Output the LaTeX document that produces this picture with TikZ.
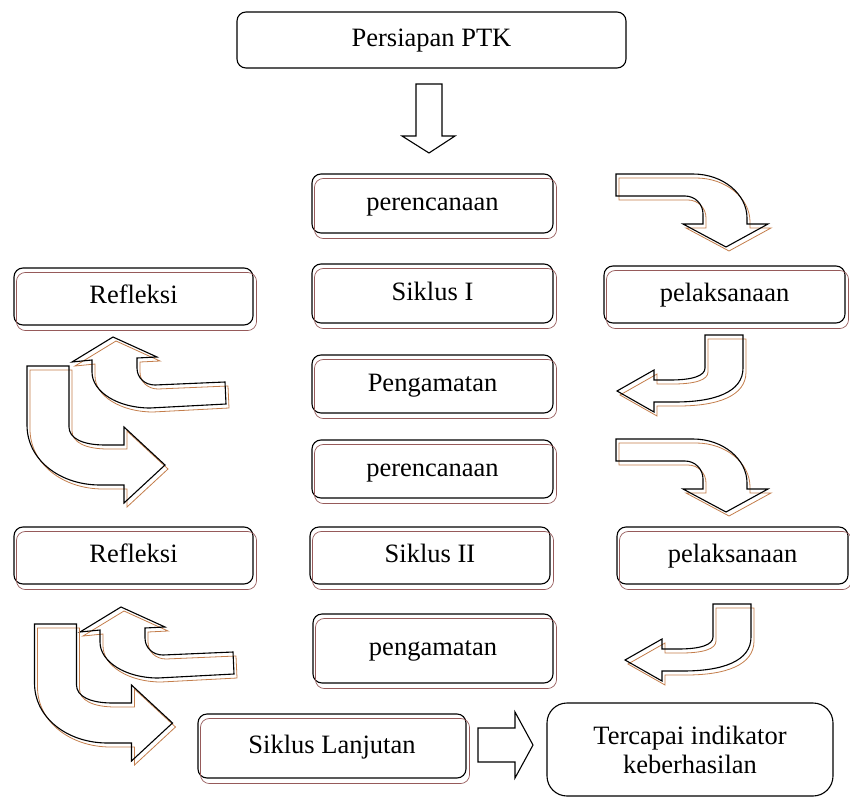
\documentclass[tikz,border=0pt]{standalone}
\usepackage{fontspec}
\setmainfont{Liberation Serif}
\definecolor{shbox}{RGB}{150,90,90}
\definecolor{sharrow}{RGB}{195,125,75}
\newcommand\shadowedbox[6]{%
  \node[box, text height=18pt, text depth=4pt, minimum width=#4pt, minimum height=#5pt] (#1) at (#2,#3) {#6};
  \draw[boxshadow] ([shift={(3,5)}]#1.north west) rectangle ([shift={(3,5)}]#1.south east);
}
\def\pathA{(616,174) -- (693,174) .. controls (723,174) and (747,194) .. (747,218) -- (747,224) -- (768,224) -- (726,247) -- (683,224) -- (703,224) -- (703,214) .. controls (703,204) and (695,196) .. (685,196) -- (616,196) -- cycle}
\def\pathB{(705,335) -- (743,335) -- (743,368) .. controls (743,392) and (715,402) .. (675,402) -- (654,402) -- (654,412) -- (617,391) -- (654,370) -- (654,380) -- (670,380) .. controls (692,380) and (705,376) .. (705,368) -- cycle}
\def\pathC{(226,404) -- (225,382) -- (155,385) .. controls (145,385) and (137,378) .. (137,368) -- (137,358) -- (157,357) -- (113,337) -- (72,362) -- (92,360) -- (92,372) .. controls (92,392) and (118,408) .. (150,408) -- cycle}
\def\pathD{(27,366) -- (69,366) -- (69,427) .. controls (69,438) and (82,445) .. (105,445) -- (124,445) -- (124,427) -- (165,465) -- (124,503) -- (124,485) -- (100,485) .. controls (60,485) and (27,460) .. (27,425) -- cycle}
\tikzset{
  pics/bendA/.style={code={\draw[arrowshadow,shift={(3,4)}] \pathA; \draw[arrowline] \pathA;}},
  pics/bendB/.style={code={\draw[arrowshadow,shift={(3,4)}] \pathB; \draw[arrowline] \pathB;}},
  pics/bendC/.style={code={\draw[arrowshadow,shift={(3,4)}] \pathC; \draw[arrowline] \pathC;}},
  pics/bendD/.style={code={\draw[arrowshadow,shift={(3,4)}] \pathD; \draw[arrowline] \pathD;}},
}
\begin{document}
\begin{tikzpicture}[x=1pt,y=-1pt,
  box/.style={draw=black, line width=1.1pt, rounded corners=9pt, font=\fontsize{26.5}{31}\selectfont, align=center, inner sep=0pt},
  boxshadow/.style={draw=shbox, line width=0.7pt, rounded corners=9pt},
  arrowline/.style={draw=black, line width=1.1pt, line join=miter},
  arrowshadow/.style={draw=sharrow, line width=0.8pt},
]
\useasboundingbox (0,0) rectangle (850,802);

\node[box, text height=18pt, text depth=4pt, minimum width=389pt, minimum height=56pt] (prep) at (431.5,40) {Persiapan PTK};
\draw[arrowline] (416,84) -- (442,84) -- (442,136) -- (455,136) -- (429,153) -- (402,136) -- (416,136) -- cycle;

\shadowedbox{plan1}{432.5}{203.5}{241}{59}{perencanaan}
\shadowedbox{cyc1}{432.5}{293.5}{241}{59}{Siklus I}
\shadowedbox{refl1}{133.5}{296.5}{239}{57}{Refleksi}
\shadowedbox{act1}{724.5}{294.5}{241}{57}{pelaksanaan}
\shadowedbox{obs1}{432.5}{384}{241}{58}{Pengamatan}
\shadowedbox{plan2}{432.5}{469}{241}{58}{perencanaan}
\shadowedbox{refl2}{133.5}{555.5}{239}{57}{Refleksi}
\shadowedbox{cyc2}{430}{555.5}{240}{57}{Siklus II}
\shadowedbox{act2}{732.5}{555.5}{231}{57}{pelaksanaan}
\shadowedbox{obs2}{433}{648.5}{240}{69}{pengamatan}
\shadowedbox{next}{332}{746}{268}{64}{Siklus Lanjutan}

\node[box, rounded corners=20pt, minimum width=286pt, minimum height=93pt] (done) at (690,749.5) {Tercapai indikator\\[-2pt]keberhasilan};
\draw[arrowline] (478,728) -- (515,728) -- (515,712) -- (533,745) -- (515,778) -- (515,762) -- (478,762) -- cycle;

\pic at (0,0) {bendA};
\pic at (0,265) {bendA};
\pic at (0,0) {bendB};
\pic at (8,269) {bendB};
\pic at (0,0) {bendC};
\pic at (8,270) {bendC};
\pic at (0,0) {bendD};
\pic at (7.5,258) {bendD};
\end{tikzpicture}
\end{document}
